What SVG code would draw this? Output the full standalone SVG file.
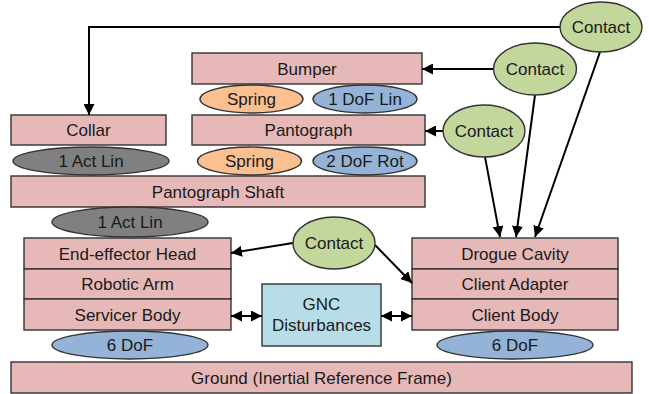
<svg xmlns="http://www.w3.org/2000/svg" width="649" height="394" viewBox="0 0 649 394">
<defs>
<style>
.r{fill:#e6b9b8;stroke:#333;stroke-width:1.4}
.sp{fill:#fac090;stroke:#333;stroke-width:1.4}
.bl{fill:#95b3d7;stroke:#333;stroke-width:1.4}
.gr{fill:#808080;stroke:#333;stroke-width:1.4}
.ct{fill:#c3d69b;stroke:#333;stroke-width:1.4}
.gnc{fill:#b7dde8;stroke:#333;stroke-width:1.4}
text{font-family:"Liberation Sans",Arial,sans-serif;font-size:17px;fill:#1a1a1a;text-anchor:middle}
.c line,.c path{stroke:#000;stroke-width:2;fill:none}
</style>
<marker id="ah" viewBox="0 0 10 10" refX="10" refY="5" markerWidth="5.5" markerHeight="5.5" orient="auto-start-reverse" markerUnits="strokeWidth">
<path d="M0,0 L10,5 L0,10 z" fill="#000"/>
</marker>
</defs>
<rect width="649" height="394" fill="#fff"/>

<g id="bumper"><rect class="r" x="192" y="53" width="230" height="31"/><text x="307" y="74.5">Bumper</text></g>
<g id="spring1"><ellipse class="sp" cx="251.5" cy="99" rx="51.5" ry="14"/><text x="251.5" y="105">Spring</text></g>
<g id="dof1lin"><ellipse class="bl" cx="365" cy="99" rx="52" ry="14"/><text x="365" y="105">1 DoF Lin</text></g>
<g id="pantograph"><rect class="r" x="192" y="115" width="233" height="30"/><text x="308.5" y="136">Pantograph</text></g>
<g id="spring2"><ellipse class="sp" cx="249.5" cy="161" rx="52" ry="14"/><text x="249.5" y="167">Spring</text></g>
<g id="dof2rot"><ellipse class="bl" cx="365" cy="161" rx="52" ry="14"/><text x="365" y="167">2 DoF Rot</text></g>
<g id="collar"><rect class="r" x="11" y="115" width="155" height="30"/><text x="88.5" y="136">Collar</text></g>
<g id="actlin1"><ellipse class="gr" cx="91" cy="161" rx="78" ry="14"/><text x="91" y="167">1 Act Lin</text></g>
<g id="shaft"><rect class="r" x="11" y="176" width="414" height="31"/><text x="218" y="197.5">Pantograph Shaft</text></g>
<g id="actlin2"><ellipse class="gr" cx="130" cy="222" rx="78" ry="15"/><text x="130" y="228">1 Act Lin</text></g>

<g id="servicer">
<rect class="r" x="24" y="238" width="207" height="31"/><text x="127.5" y="259.5">End-effector Head</text>
<rect class="r" x="24" y="269" width="207" height="30"/><text x="127.5" y="290">Robotic Arm</text>
<rect class="r" x="24" y="299" width="207" height="31"/><text x="127.5" y="320.5">Servicer Body</text>
</g>
<g id="client">
<rect class="r" x="412" y="238" width="206" height="31"/><text x="515" y="259.5">Drogue Cavity</text>
<rect class="r" x="412" y="269" width="206" height="30"/><text x="515" y="290">Client Adapter</text>
<rect class="r" x="412" y="299" width="206" height="31"/><text x="515" y="320.5">Client Body</text>
</g>
<g id="gnc"><rect class="gnc" x="262" y="284" width="119" height="62"/><text x="321.5" y="310">GNC</text><text x="321.5" y="331">Disturbances</text></g>
<g id="dof6l"><ellipse class="bl" cx="130" cy="345" rx="78" ry="14"/><text x="130" y="351">6 DoF</text></g>
<g id="dof6r"><ellipse class="bl" cx="515" cy="345" rx="78" ry="14"/><text x="515" y="351">6 DoF</text></g>
<g id="ground"><rect class="r" x="11" y="362" width="621" height="31"/><text x="321.5" y="383.5">Ground (Inertial Reference Frame)</text></g>

<g class="c" id="connectors">
<path d="M560,27 H89 V115" marker-end="url(#ah)"/>
<line x1="494" y1="69" x2="422" y2="69" marker-end="url(#ah)"/>
<line x1="443" y1="131" x2="425" y2="131" marker-end="url(#ah)"/>
<line x1="485" y1="157" x2="500" y2="237" marker-end="url(#ah)"/>
<line x1="535" y1="95" x2="516" y2="237" marker-end="url(#ah)"/>
<line x1="600" y1="52" x2="535" y2="237" marker-end="url(#ah)"/>
<line x1="293" y1="243" x2="231" y2="253" marker-end="url(#ah)"/>
<line x1="375" y1="245" x2="412" y2="283" marker-end="url(#ah)"/>
<line x1="231" y1="316" x2="262" y2="316" marker-start="url(#ah)" marker-end="url(#ah)"/>
<line x1="381" y1="316" x2="412" y2="316" marker-start="url(#ah)" marker-end="url(#ah)"/>
</g>

<g id="contact1"><ellipse class="ct" cx="601" cy="27" rx="41" ry="25"/><text x="601" y="33">Contact</text></g>
<g id="contact2"><ellipse class="ct" cx="535" cy="69" rx="41.5" ry="26"/><text x="535" y="75">Contact</text></g>
<g id="contact3"><ellipse class="ct" cx="484" cy="131" rx="41" ry="26"/><text x="484" y="137">Contact</text></g>
<g id="contact4"><ellipse class="ct" cx="334" cy="243" rx="41" ry="26"/><text x="334" y="249">Contact</text></g>
</svg>
